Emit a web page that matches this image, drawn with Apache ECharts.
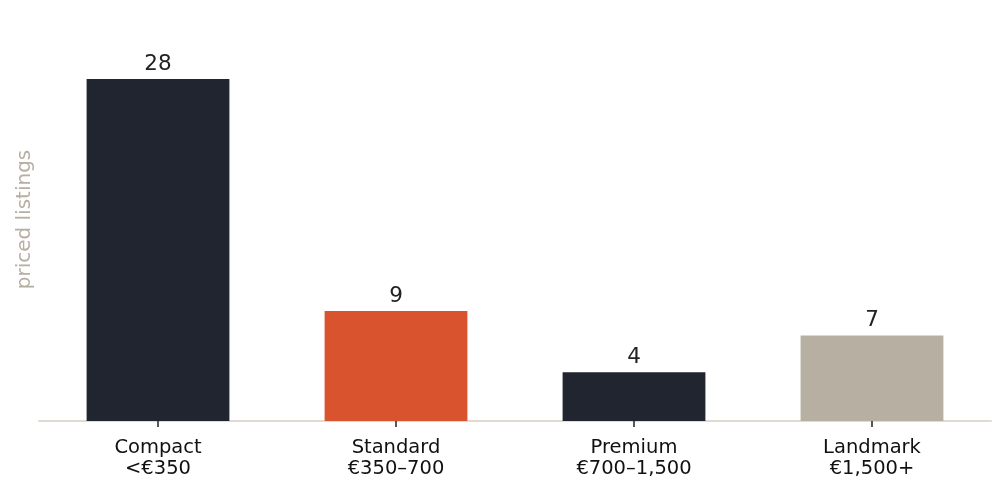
<!DOCTYPE html>
<html><head><meta charset="utf-8">
<script src="https://cdn.jsdelivr.net/npm/echarts@6/dist/echarts.min.js"></script>
<style>html,body{margin:0;padding:0;background:#fff}#c{width:1002px;height:495px}</style>
</head><body><div id="c"></div>
<script>
const categories = ["Compact\n<€350", "Standard\n€350–700", "Premium\n€700–1,500", "Landmark\n€1,500+"];
const values = [28, 9, 4, 7];
const barColors = ["#212530", "#d9542e", "#212530", "#b8afa3"];
const yName = "priced listings";

const chart = echarts.init(document.getElementById('c'));
chart.setOption({
  animation: false,
  textStyle: { fontFamily: 'DejaVu Sans' },
  grid: { left: 39, right: 11, top: 18, bottom: 74 },
  xAxis: {
    type: 'category',
    data: categories,
    axisLine: { show: true, lineStyle: { color: '#e0dbd0', width: 2 } },
    axisTick: { show: true, alignWithLabel: true, length: 6, lineStyle: { color: '#222', width: 1.5 } },
    axisLabel: { color: '#111', fontSize: 19.5, lineHeight: 21, margin: 16, fontFamily: 'DejaVu Sans' }
  },
  yAxis: {
    type: 'value', min: 0, max: 33,
    name: yName, nameLocation: 'middle', nameGap: 4,
    nameTextStyle: { color: '#b8afa3', fontSize: 20, fontFamily: 'DejaVu Sans' },
    axisLine: { show: false }, axisTick: { show: false },
    axisLabel: { show: false }, splitLine: { show: false }
  },
  series: [{
    type: 'bar',
    barWidth: '60%',
    data: values.map((v, i) => ({ value: v, itemStyle: { color: barColors[i] } })),
    label: { show: true, position: 'top', distance: 4, color: '#222', fontSize: 21.5, fontFamily: 'DejaVu Sans' }
  }]
});
</script></body></html>
